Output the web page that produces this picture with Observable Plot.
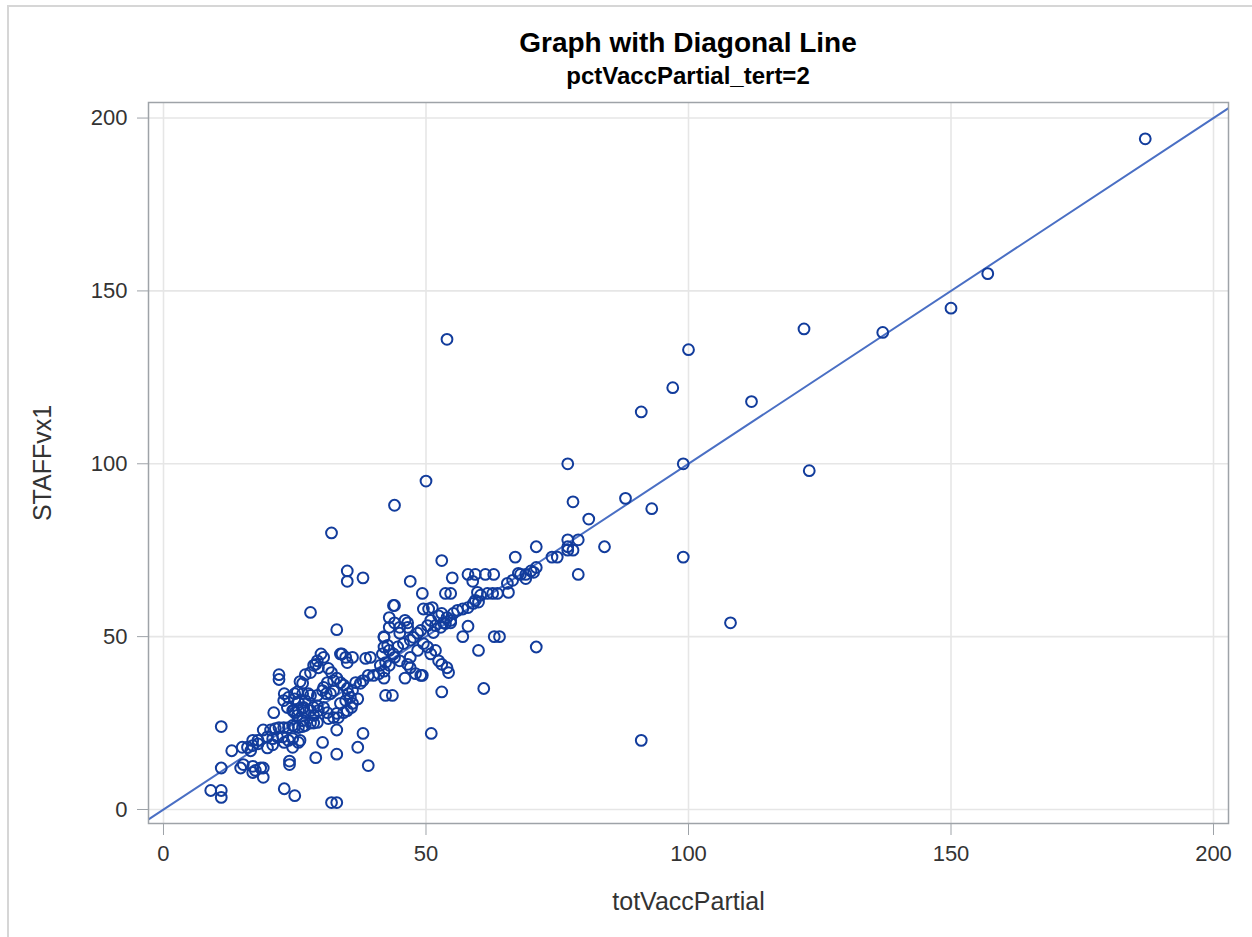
<!DOCTYPE html>
<html><head><meta charset="utf-8">
<script src="https://cdn.jsdelivr.net/npm/d3@7"></script>
<script src="https://cdn.jsdelivr.net/npm/@observablehq/plot@0.6"></script>
<style>
body{margin:0;background:#fff;font-family:"Liberation Sans",Arial,sans-serif}
#wrap{position:relative;width:1252px;height:937px;overflow:hidden;background:#fff}
#border{position:absolute;left:7px;top:5px;width:1270px;height:960px;border:2px solid #d6d6d6;box-sizing:border-box}
#chart{position:absolute;left:0;top:0}
.t{position:absolute;left:148px;width:1080px;text-align:center;font-weight:bold;color:#000;white-space:nowrap}
#title{top:27px;font-size:28px;line-height:32px}
#sub{top:62px;font-size:24px;line-height:28px}
</style></head><body>
<div id="wrap"><div id="border"></div><div id="chart"></div>
<div class="t" id="title">Graph with Diagonal Line</div>
<div class="t" id="sub">pctVaccPartial_tert=2</div></div>
<script>
const xLabel = "totVaccPartial";
const yLabel = "STAFFvx1";
const xTicks = [0, 50, 100, 150, 200];
const yTicks = [0, 50, 100, 150, 200];
const xDomain = [-2.857, 202.857];
const yDomain = [-4.05, 204.5];
const diagonal = [-10, 215];

// [totVaccPartial, STAFFvx1]
const outerPoints = [
[187,194],[157,155],[150,145],[137,138],[122,139],[112,118],[123,98],[100,133],[97,122],[91,115],
[99,100],[99,73],[108,54],[91,20],[93,87],[88,90],[81,84],[84,76],[77,100],[78,89],[79,68],
[77,78],[77,76],[78,75],[77,75],[79,78],[75,73],[71,76],[67,73],[74,73],[71,47],[64,50],
[68,68],[69,68],[70,69],[71,70],[70.5,68.6],[65.5,65.4],[66.5,66.3],[67.6,68.3],[69,66.8],[65.7,62.8],
[54,136],[50,95],[44,88],[32,80],[53,72]
];
const midPoints = [
[47,66],[55,67],[58,68],[59.4,68],[61.3,68],[62.9,68],[58.9,66],[53.7,62.5],[54.7,62.5],[49.3,62.5],
[59.8,62.8],[60.4,62],[61.7,62.5],[62.7,62.5],[63.6,62.5],[59.4,60.5],[49.5,58],[50.5,58],[51.2,58.4],[43.8,59],
[53,56.7],[52.4,56],[54,55.5],[54.7,54],[53.7,53.8],[52.8,52.7],[51.8,53.2],[50.9,54.7],[50.3,53.2],[51.4,51.2],
[56,57.6],[57,58],[58,58.4],[59,59.6],[60,60],[58,53],[57,50],[60,46],[61,35],[63,50],[53,34],[51,22],
[43,55.5],[46,54.7],[46.5,52.7],[45,52.7],[43,52.7],[42,49.8],[42,47],[43,46],[44.6,47],[45.7,48],[47,49],
[47.6,49.8],[48.4,51],[49,51.8],[49.5,48],[44,44],[45,43],[47,44],[48.4,46],[50.3,47],[50.9,45],[51.8,46],
[46.5,42],[47,41],[48,39.3],[49.3,38.8],[52.4,43],[53,42],[54,41],[54.3,39.6],[42,38],[46,38],[49,38.8],
[42.3,33],[43.6,33],[44,54],[45,51],[46.5,54],[42,50],[42.7,47.5],[43.8,45],[41.7,45],[55.2,56.7],[53.3,54],[54.7,54.7]
];
const lowPoints = [
[30,45],[30.5,44],[33.7,45],[34.7,44],[35,42.5],[29,42],[29.5,41],[28,39.6],[27,39],[26,37],[25.5,34],[25,32],
[31.4,40.8],[32,39.6],[32.4,37.3],[31.2,36.7],[30.5,35.3],[33,38],[33.7,36.7],[34.3,36],[35,35],[35.2,33.5],[36,34.4],
[28,33],[29.3,33],[30.3,34.4],[31,33.5],[31.8,33.5],[32.4,34.4],[36.6,36.7],[37.5,36.5],[38,37.3],[39,38.8],[39.4,44],
[38.5,43.7],[40,38.8],[41,39.3],[42,40],[43,41.7],[42.3,42.5],[41.3,41.7],[24.8,28.6],[25.5,27.2],[26.5,25.7],[26.7,29.5],
[28,28.6],[28.6,27.2],[29.5,28.6],[30.5,29.5],[31.2,28],[31.4,26.3],[32.4,26.6],[33,27.8],[34.3,28],[35,28.6],[35.8,29.5],
[36,30.7],[34.7,31.5],[33.7,30.7],[37,32],[35.6,32.4],[26,20],[30.3,19.4],[33,16],[29,15],[38,22],[37,18],[39,12.7],
[33,23],[33.3,26.6],[28,57],[33,52],[35,69],[35,66],[38,67],[32,2],[33,2],[44,59],[34,45],[36,44]
];
const bottomPoints = [
[9,5.5],[11,5.5],[11,3.5],[11,24],[13,17],[11,12],[23,6],[25,4],[24,14],[24,13],
[15,18],[16,18],[16.6,17],[17,18.5],[18,19],[18,20],[17,20],[14.7,12],[15.2,13],[17,12.5],[17.5,11.3],[18.5,12],
[19,12],[19,9.3],[17,10.7],[21,28],[19,23],[20.4,23],[21.3,23.4],[22,23.7],[22.9,23.7],[23.8,23.7],[24.6,24.3],
[25,24],[25.7,23.7],[26.5,24],[27,24.3],[28,25],[28.6,25],[29.3,25.2],[19.8,21],[20.8,20.5],[21.7,21],[22.7,21],
[23.8,20],[24.6,20.5],[22,39],[22,37.6],[23,33.5],[23.8,32.4],[25,33.5],[26.5,33.5],[27.6,33.5],[25.7,31],[27,31.5],
[22.9,31.5],[23.6,29.5],[24.6,28.6],[25,28],[25.7,28.6],[26.5,29.2],[27,28],[28.6,29.5],[29.3,30],[26.5,36.5],
[23,19.4],[25.7,19.4],[24.6,18],[20.8,18.7],[19.8,17.8],[29.3,43],[28.6,41.7]
];
const points = [...outerPoints, ...midPoints, ...lowPoints, ...bottomPoints];

const font = "Liberation Sans, Arial, sans-serif";
const chart = Plot.plot({
  width: 1252, height: 937,
  marginLeft: 148, marginRight: 24, marginTop: 102, marginBottom: 114,
  style: {fontFamily: font, background: "transparent", overflow: "visible"},
  x: {domain: xDomain},
  y: {domain: yDomain},
  marks: [
    Plot.gridX(xTicks, {stroke: "#e6e6e6", strokeOpacity: 1, strokeWidth: 1.6}),
    Plot.gridY(yTicks, {stroke: "#e6e6e6", strokeOpacity: 1, strokeWidth: 1.6}),
    Plot.line(diagonal, {x: d => d, y: d => d, stroke: "#4a6fc4", strokeWidth: 2, clip: true}),
    Plot.dot(points, {x: d => d[0], y: d => d[1], r: 5.4, stroke: "#123c9c", strokeWidth: 2, fill: "none"}),
    Plot.frame({stroke: "#9ea3a8", strokeWidth: 1.5}),
    Plot.axisX(xTicks, {tickSize: 12, tickPadding: 10, fontSize: 22, color: "#333", stroke: "#9ea3a8", label: null}),
    Plot.axisY(yTicks, {tickSize: 11, tickPadding: 10, fontSize: 22, color: "#333", stroke: "#9ea3a8", label: null}),
    Plot.text([xLabel], {text: d => d, frameAnchor: "bottom", dy: 78, textAnchor: "middle", lineAnchor: "middle", fontSize: 25, fill: "#333"}),
    Plot.text([yLabel], {text: d => d, frameAnchor: "left", dx: -106, textAnchor: "middle", lineAnchor: "middle", rotate: -90, fontSize: 25, fill: "#333"})
  ]
});
document.getElementById("chart").appendChild(chart);
</script>
</body></html>
